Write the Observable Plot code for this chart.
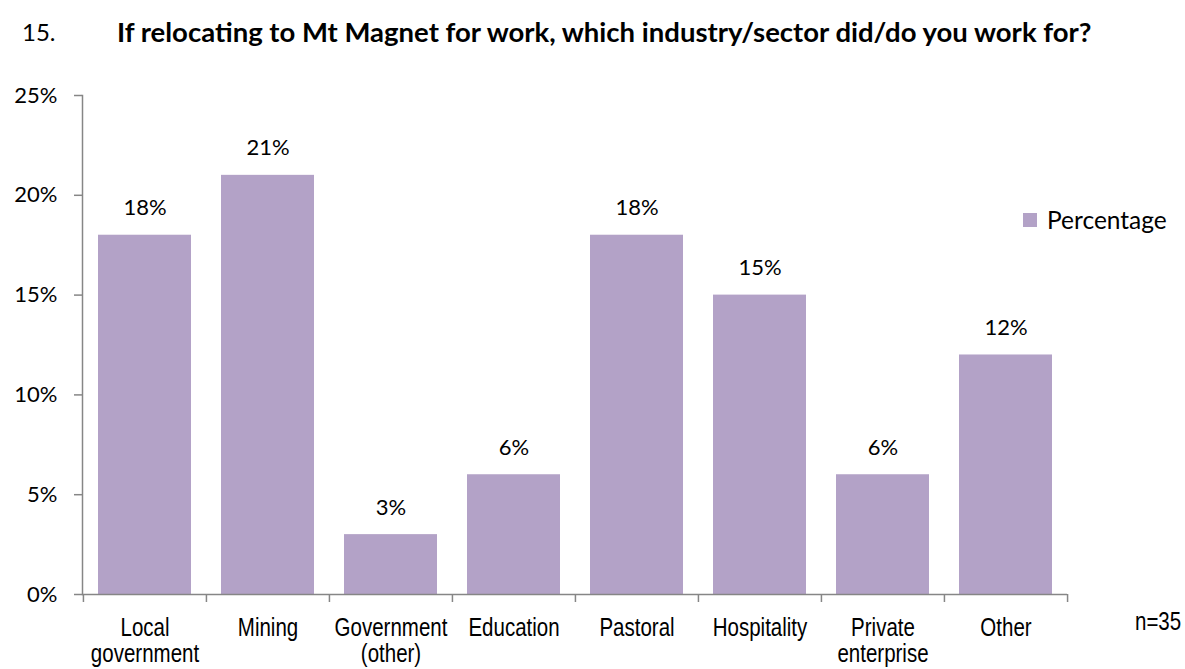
<!DOCTYPE html>
<html>
<head>
<meta charset="utf-8">
<script src="https://cdn.jsdelivr.net/npm/d3@7"></script>
<script src="https://cdn.jsdelivr.net/npm/@observablehq/plot@0.6"></script>
<style>
  body { margin: 0; background: #fff; }
  #wrap { position: relative; width: 1185px; height: 669px; overflow: hidden; }
  #chart { position: absolute; left: 0; top: 0; }
  .t { position: absolute; white-space: nowrap; color: #000; }
  #num { left: 22px; top: 17px; font: 400 24px Lato, sans-serif; }
  #title { left: 117px; top: 15px; font: 700 27.5px Lato, sans-serif; }
  #legend { left: 1023px; top: 205px; font: 400 24.5px Lato, sans-serif; display: flex; align-items: center; }
  #legend .sw { width: 14px; height: 14px; background: #b3a2c7; margin-right: 10px; }
  #n { left: 1135px; top: 607px; font: 400 25px "Liberation Sans", Arial, sans-serif; transform: scaleX(0.82); transform-origin: 0 0; }
</style>
</head>
<body>
<div id="wrap">
  <div id="chart"></div>
  <div class="t" id="num">15.</div>
  <div class="t" id="title">If relocating to Mt Magnet for work, which industry/sector did/do you work for?</div>
  <div class="t" id="legend"><span class="sw"></span><span>Percentage</span></div>
  <div class="t" id="n">n=35</div>
</div>
<script>
const categories = ["Local government", "Mining", "Government (other)", "Education", "Pastoral", "Hospitality", "Private enterprise", "Other"];
const tickLabels = ["Local\ngovernment", "Mining", "Government\n(other)", "Education", "Pastoral", "Hospitality", "Private\nenterprise", "Other"];
const percentages = [18, 21, 3, 6, 18, 15, 6, 12];
const yTicks = [0, 5, 10, 15, 20, 25];

const data = categories.map((c, i) => ({category: c, value: percentages[i]}));

const W = 1185, H = 669;
const mL = 82, mR = 118, mT = 95, mB = 75;
const step = (W - mL - mR) / categories.length;
const gray = "#868686";
const barColor = "#b3a2c7";

const chart = Plot.plot({
  width: W,
  height: H,
  marginLeft: mL,
  marginRight: mR,
  marginTop: mT,
  marginBottom: mB,
  style: {fontFamily: "Lato, sans-serif", fontSize: "22px", color: "#000", background: "#fff"},
  x: {domain: categories, padding: 0, axis: null},
  y: {domain: [0, 25], axis: null},
  marks: [
    Plot.barY(data, {x: "category", y: "value", fill: barColor, insetLeft: 15, insetRight: 15}),
    Plot.text(data, {x: "category", y: "value", text: d => d.value + "%", dy: -27, fontSize: 22, fill: "#000"}),
    Plot.frame({anchor: "left", stroke: gray, strokeWidth: 1.5}),
    Plot.ruleY([0], {stroke: gray, strokeWidth: 1.5}),
    Plot.axisY({ticks: yTicks, tickSize: 8, text: null, label: null, stroke: gray, strokeWidth: 1.5, strokeOpacity: 1}),
    Plot.axisY({ticks: yTicks, tickSize: 0, tickPadding: 25, label: null, tickFormat: d => d + "%", fontSize: 22, fill: "#000"}),
    Plot.axisX({tickSize: 8, text: null, label: null, dx: -step / 2, stroke: gray, strokeWidth: 1.5, strokeOpacity: 1}),
    Plot.axisX({ticks: [categories[categories.length - 1]], tickSize: 8, text: null, label: null, dx: step / 2, stroke: gray, strokeWidth: 1.5, strokeOpacity: 1}),
    Plot.axisX({tickSize: 0, tickPadding: 23, label: null, tickFormat: d => tickLabels[categories.indexOf(d)], fontSize: 25, fontFamily: "'Liberation Sans', Arial, sans-serif", lineHeight: 1.04, fill: "#000", className: "xlab"})
  ]
});
document.getElementById("chart").appendChild(chart);

// condensed look (Arial Narrow style) for the category labels
d3.select(chart).selectAll("g[aria-label='x-axis tick label'] text").each(function() {
  const t = this.getAttribute("transform") || "";
  this.setAttribute("transform", t + " scale(0.82,1)");
});
</script>
</body>
</html>
